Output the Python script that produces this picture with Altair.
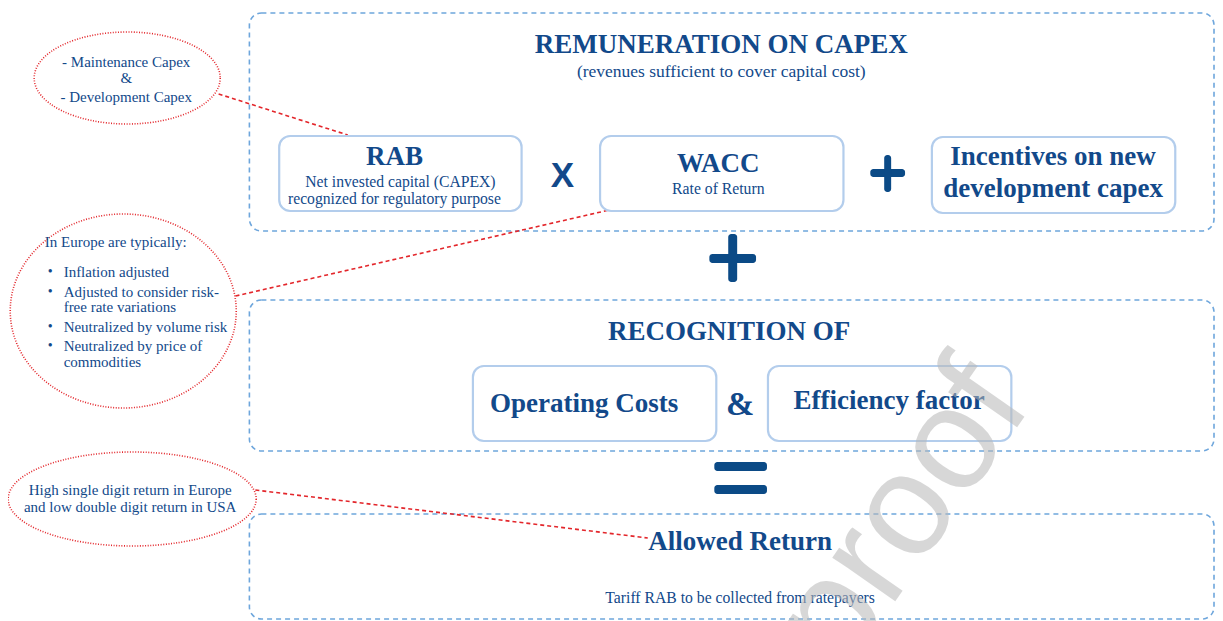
import altair as alt
import pandas as pd

# ---------------- data (reference pixel coordinates) ----------------
# dashed section frames
frame_x0 = [251, 251, 251]
frame_x1 = [1222, 1222, 1222]
frame_y0 = [13, 300, 514]
frame_y1 = [231, 451, 619]

# solid rounded boxes: RAB, WACC, Incentives, Operating Costs, Efficiency factor
box_x0 = [281, 604, 938, 476, 773]
box_x1 = [525, 849, 1183, 721, 1018]
box_y0 = [136, 136, 137, 366, 366]
box_y1 = [211, 211, 213, 441, 441]

# operator bars (plus, plus, equals)
bar_x0 = [876, 890, 714, 733, 719, 719]
bar_x1 = [911, 897, 761, 742, 772, 772]
bar_y0 = [169, 155, 254, 234, 462, 485]
bar_y1 = [177, 192, 263, 282, 471, 494]

# bold headings
head_text = ["REMUNERATION ON CAPEX", "RAB", "WACC", "Incentives on new",
             "development capex", "RECOGNITION OF", "Operating Costs",
             "Efficiency factor", "Allowed Return"]
head_x = [726, 397, 723, 1060, 1060, 734, 588, 895, 745]
head_y = [45, 157, 164, 157, 189, 332, 404, 401, 542]

# subtitle
subtitle = ["(revenues sufficient to cover capital cost)"]
subtitle_x = [726]
subtitle_y = [72]

# regular sub-texts
sub_text = ["Net invested capital (CAPEX)",
            "recognized for regulatory purpose",
            "Rate of Return",
            "Tariff RAB to be collected from ratepayers"]
sub_x = [403, 397, 723, 745]
sub_y = [182, 199, 189, 598]

# callout ellipses (center, radii)
ell_cx = [128, 124, 133]
ell_cy = [78, 311, 499]
ell_rx = [93, 113, 124]
ell_ry = [46, 97, 47]

# callout texts (centred)
note_text = ["- Maintenance Capex", "&", "- Development Capex",
             "High single digit return in Europe",
             "and low double digit return in USA"]
note_x = [127, 127, 127, 131, 131]
note_y = [62, 78, 97, 490, 507]

# bulleted callout
list_head = ["In Europe are typically:"]
list_head_x = [45]
list_head_y = [242]
list_text = ["Inflation adjusted", "Adjusted to consider risk-",
             "free rate variations", "Neutralized by volume risk",
             "Neutralized by price of", "commodities"]
list_y = [272, 292, 307, 327, 346, 362]
bullet_y = [272, 292, 327, 346]

# connector lines
link_x0 = [220, 237, 257]
link_y0 = [94, 296, 490]
link_x1 = [350, 622, 652]
link_y1 = [135, 208, 538]

# ---------------- styling ----------------
W, H = 1207, 613
XS = alt.Scale(domain=[8, 1223], zero=False, nice=False)
YS = alt.Scale(domain=[8, 621], zero=False, nice=False, reverse=True)
BLUE = "#12498a"
RED = "#e3262b"
SERIF = "Liberation Serif"


def X(f):
    return alt.X(f, type="quantitative", scale=XS, axis=None)


def Y(f):
    return alt.Y(f, type="quantitative", scale=YS, axis=None)


def rect_df(x0, x1, y0, y1):
    return pd.DataFrame({"x0": x0, "x1": x1, "y0": y0, "y1": y1})


frames = alt.Chart(rect_df(frame_x0, frame_x1, frame_y0, frame_y1)).mark_rect(
    fill="white", fillOpacity=0, stroke="#6ea6dc", strokeWidth=1.6,
    strokeDash=[5, 4], cornerRadius=12
).encode(x=X("x0"), x2="x1", y=Y("y0"), y2="y1")

boxes = alt.Chart(rect_df(box_x0, box_x1, box_y0, box_y1)).mark_rect(
    fill="white", stroke="#b3cdec", strokeWidth=2.2, cornerRadius=11
).encode(x=X("x0"), x2="x1", y=Y("y0"), y2="y1")

bars = alt.Chart(rect_df(bar_x0, bar_x1, bar_y0, bar_y1)).mark_rect(
    fill="#0b4a86", cornerRadius=3
).encode(x=X("x0"), x2="x1", y=Y("y0"), y2="y1")

links = alt.Chart(pd.DataFrame({"x0": link_x0, "y0": link_y0,
                                "x1": link_x1, "y1": link_y1})).mark_rule(
    color=RED, strokeWidth=1.6, strokeDash=[4, 3]
).encode(x=X("x0"), y=Y("y0"), x2="x1", y2="y1")

# ellipse outlines as custom symbol paths (cubic Bezier ellipse in unit box)
K = 0.5523


def ellipse_path(rx, ry):
    k = ry / rx
    return (f"M1,0 C1,{k*K:.4f} {K},{k:.4f} 0,{k:.4f} "
            f"C{-K},{k:.4f} -1,{k*K:.4f} -1,0 "
            f"C-1,{-k*K:.4f} {-K},{-k:.4f} 0,{-k:.4f} "
            f"C{K},{-k:.4f} 1,{-k*K:.4f} 1,0 Z")


ell_df = pd.DataFrame({
    "x": ell_cx, "y": ell_cy,
    "path": [ellipse_path(a, b) for a, b in zip(ell_rx, ell_ry)],
    "sz": [(2 * a) ** 2 for a in ell_rx],
})
ellipses = alt.Chart(ell_df).mark_point(
    filled=False, stroke=RED, strokeWidth=1.6, strokeDash=[1, 1.6], opacity=1
).encode(x=X("x"), y=Y("y"),
         shape=alt.Shape("path:N", scale=None),
         size=alt.Size("sz:Q", scale=None))


def text_layer(texts, xs, ys, **mark):
    df = pd.DataFrame({"t": texts, "x": xs, "y": ys})
    return alt.Chart(df).mark_text(baseline="middle", **mark).encode(
        x=X("x"), y=Y("y"), text="t:N")


heads = text_layer(head_text, head_x, head_y, font=SERIF, fontWeight="bold",
                   fontSize=27, color=BLUE, align="center")
subt = text_layer(subtitle, subtitle_x, subtitle_y, font=SERIF, fontSize=17.5,
                  color=BLUE, align="center")
subs = text_layer(sub_text, sub_x, sub_y, font=SERIF, fontSize=15.7,
                  color=BLUE, align="center")
notes = text_layer(note_text, note_x, note_y, font=SERIF, fontSize=15,
                   color=BLUE, align="center")
lhead = text_layer(list_head, list_head_x, list_head_y, font=SERIF,
                   fontSize=15, color=BLUE, align="left")
litems = text_layer(list_text, [64] * len(list_text), list_y, font=SERIF,
                    fontSize=15, color=BLUE, align="left")
bullets = text_layer(["•"] * len(bullet_y), [48] * len(bullet_y), bullet_y,
                     font=SERIF, fontSize=14, color=BLUE, align="left")
times = text_layer(["X"], [566], [176], font="Liberation Sans",
                   fontWeight="bold", fontSize=35, color=BLUE, align="center")
amp = text_layer(["&"], [745], [405], font=SERIF, fontWeight="bold",
                 fontSize=34, color=BLUE, align="center")
watermark = text_layer(["proof"], [908], [515], font="Liberation Sans",
                       fontSize=145, color="#b8b8b8", opacity=0.55,
                       angle=305, align="center")

chart = alt.layer(
    frames, links, boxes, bars, ellipses, heads, subt, subs, notes, lhead,
    litems, bullets, times, amp, watermark
).properties(
    width=W, height=H, padding=0, autosize=alt.AutoSizeParams(type="none")
).configure_view(stroke=None)

chart.save("out.html", embed_options={"renderer": "svg", "actions": False})
